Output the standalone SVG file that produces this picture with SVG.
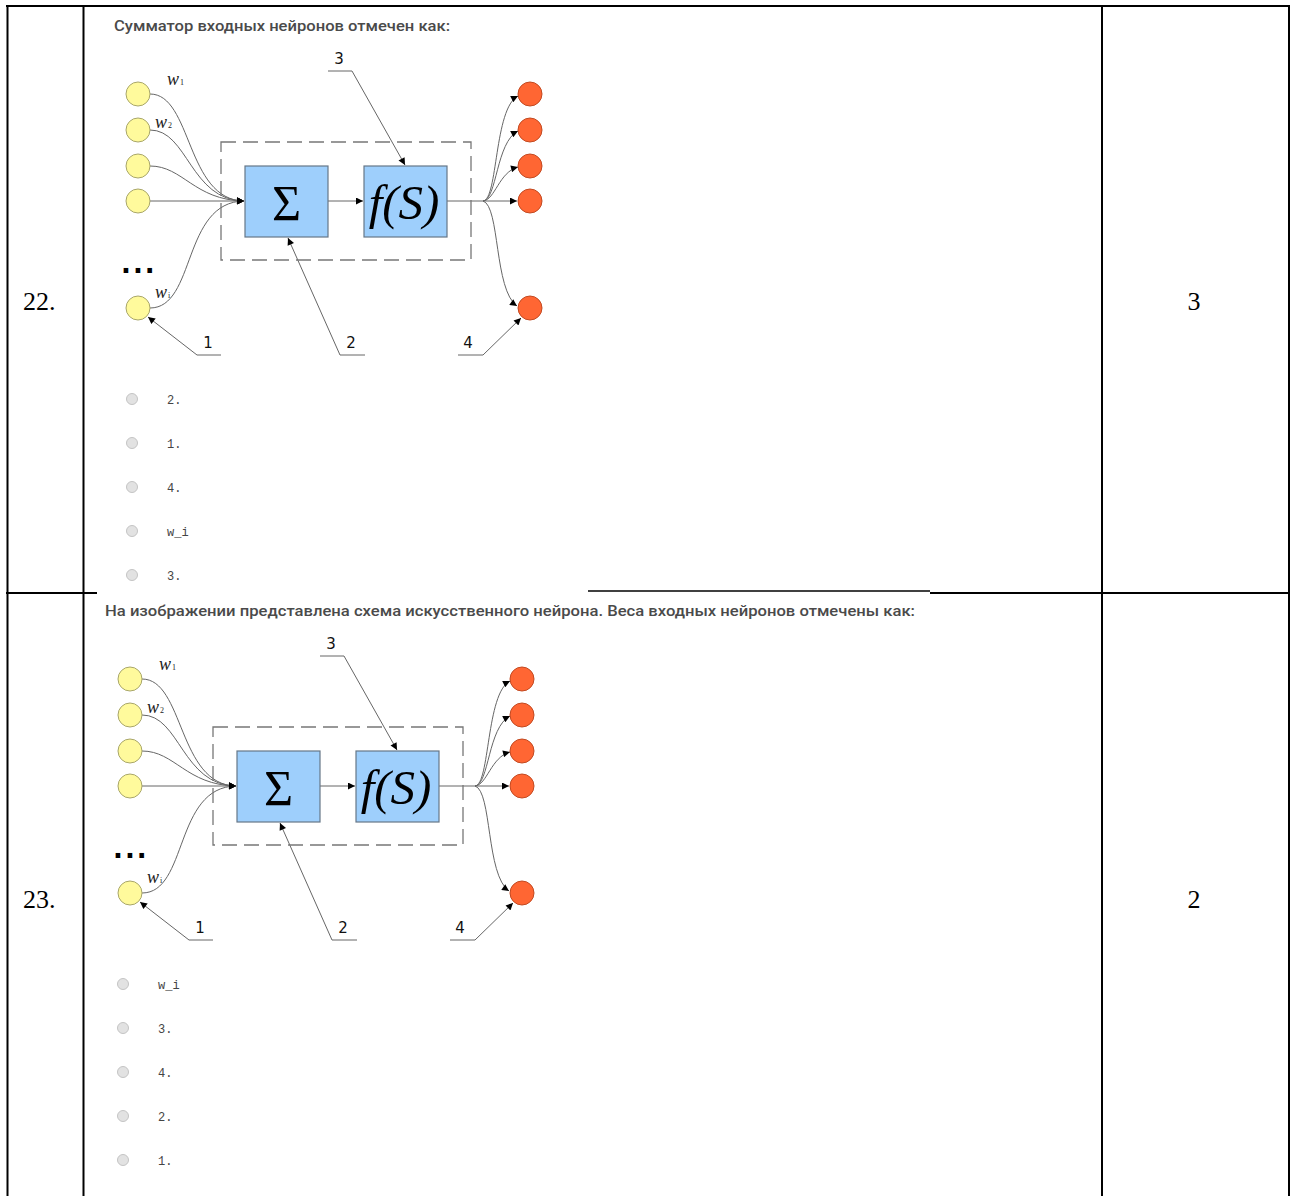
<svg xmlns="http://www.w3.org/2000/svg" width="1292" height="1196" viewBox="0 0 1292 1196">
<defs>
<marker id="arr" viewBox="0 0 10 10" refX="10" refY="5" markerWidth="9" markerHeight="7" markerUnits="userSpaceOnUse" orient="auto"><path d="M0,0 L10,5 L0,10 z" fill="#000"/></marker>
<style>
.tbl{stroke:#000;stroke-width:2;fill:none}
.inp{fill:#FFFA9C;stroke:#A8A66A;stroke-width:1}
.out{fill:#FF6633;stroke:#C24A22;stroke-width:1}
.box{fill:#9ECFFC;stroke:#667788;stroke-width:1.2}
.dash{fill:none;stroke:#777;stroke-width:1.3;stroke-dasharray:15 7}
.con{fill:none;stroke:#666;stroke-width:1;marker-end:url(#arr)}
.ptr{fill:none;stroke:#666;stroke-width:1}
.sym{font-family:"Liberation Serif","DejaVu Serif",serif;fill:#000}
.w{font-family:"Liberation Serif","DejaVu Serif",serif;font-style:italic;font-size:18px;fill:#222}
.ws{font-family:"Liberation Serif","DejaVu Serif",serif;font-size:8px;font-style:normal;fill:#222}
.num{font-family:"DejaVu Sans","Liberation Sans",sans-serif;font-size:15px;fill:#111;text-anchor:middle}
.title{font-family:Roboto,"Liberation Sans",sans-serif;font-weight:500;font-size:14px;fill:#4a4a4a}
.opt{font-family:"Liberation Mono","DejaVu Sans Mono",monospace;font-size:12px;fill:#444}
.radio{fill:#E2E2E2;stroke:#C4C4C4;stroke-width:1}
.cell{font-family:"Liberation Serif","Times New Roman",serif;font-size:26px;fill:#000}
.dots{font-family:"DejaVu Sans",sans-serif;font-weight:bold;font-size:26px;letter-spacing:2px;fill:#000}
</style>
</defs>
<rect width="1292" height="1196" fill="#fff"/>

<g id="table">
<line class="tbl" x1="6" y1="6" x2="1290" y2="6"/>
<line class="tbl" x1="7.5" y1="5" x2="7.5" y2="1196"/>
<line class="tbl" x1="83.5" y1="5" x2="83.5" y2="1196"/>
<line class="tbl" x1="1102" y1="5" x2="1102" y2="1196"/>
<line class="tbl" x1="1289" y1="5" x2="1289" y2="1196"/>
<line class="tbl" x1="6" y1="593" x2="97" y2="593"/>
<line x1="588" y1="591" x2="930" y2="591" stroke="#000" stroke-width="1.5"/>
<line class="tbl" x1="930" y1="593" x2="1290" y2="593"/>
<text class="cell" x="23" y="310">22.</text>
<text class="cell" x="1194" y="310" text-anchor="middle">3</text>
<text class="cell" x="23" y="908">23.</text>
<text class="cell" x="1194" y="908" text-anchor="middle">2</text>
</g>

<!-- Question 22 -->
<text class="title" x="114" y="31" textLength="336" lengthAdjust="spacingAndGlyphs">Сумматор входных нейронов отмечен как:</text>
<g id="q22-diagram">
<g id="q22-connectors">
<path class="con" d="M150,94 C192,94 186,200 244,201"/>
<path class="con" d="M150,130 C188,130 190,200 244,201"/>
<path class="con" d="M150,166 C183,166 194,200 244,201"/>
<path class="con" d="M150,201 L244,201"/>
<path class="con" d="M150,308 C196,308 182,202 244,201"/>
<path class="con" d="M328,201 L363,201"/>
<path class="ptr" d="M447,201 L483,201"/>
<path class="con" d="M483,201 C498,200 494,108 518,96"/>
<path class="con" d="M483,201 C497,200 496,142 518,131"/>
<path class="con" d="M483,201 C495,200 499,172 518,167"/>
<path class="con" d="M483,201 L517,201"/>
<path class="con" d="M483,201 C500,206 494,290 517,306"/>
<path class="ptr" d="M328,71 L352,71"/>
<path class="con" d="M352,71 L405,165"/>
<path class="ptr" d="M365,355 L340,355"/>
<path class="con" d="M340,355 L288,238"/>
<path class="ptr" d="M221,355 L197,355"/>
<path class="con" d="M197,355 L148,317"/>
<path class="ptr" d="M458,355 L483,355"/>
<path class="con" d="M483,355 L521,318"/>
</g>
<rect class="dash" x="221" y="142" width="250" height="118"/>
<g id="q22-in1"><circle class="inp" cx="138" cy="94" r="12"/></g>
<g id="q22-in2"><circle class="inp" cx="138" cy="130" r="12"/></g>
<g id="q22-in3"><circle class="inp" cx="138" cy="166" r="12"/></g>
<g id="q22-in4"><circle class="inp" cx="138" cy="201" r="12"/></g>
<g id="q22-ini"><circle class="inp" cx="138" cy="308" r="12"/></g>
<g id="q22-out1"><circle class="out" cx="530" cy="94" r="12"/></g>
<g id="q22-out2"><circle class="out" cx="530" cy="130" r="12"/></g>
<g id="q22-out3"><circle class="out" cx="530" cy="166" r="12"/></g>
<g id="q22-out4"><circle class="out" cx="530" cy="201" r="12"/></g>
<g id="q22-out5"><circle class="out" cx="530" cy="308" r="12"/></g>
<g id="q22-sum"><rect class="box" x="245" y="166" width="83" height="71"/><text class="sym" x="286.5" y="220" font-size="50" text-anchor="middle">Σ</text></g>
<g id="q22-act"><rect class="box" x="364" y="166" width="83" height="71"/><text class="sym" x="404" y="219" font-size="49" font-style="italic" text-anchor="middle">f(S)</text></g>
<text class="w" x="167" y="85">w<tspan class="ws" dx="1">1</tspan></text>
<text class="w" x="155" y="128">w<tspan class="ws" dx="1">2</tspan></text>
<text class="w" x="155" y="298">w<tspan class="ws" dx="1">i</tspan></text>
<text class="dots" x="121" y="273">...</text>
<text class="num" x="339" y="64">3</text>
<text class="num" x="351" y="348">2</text>
<text class="num" x="208" y="348">1</text>
<text class="num" x="468" y="348">4</text>
</g>
<g id="q22-options">
<circle class="radio" cx="132" cy="399" r="5.5"/><text class="opt" x="167" y="404">2.</text>
<circle class="radio" cx="132" cy="443" r="5.5"/><text class="opt" x="167" y="448">1.</text>
<circle class="radio" cx="132" cy="487" r="5.5"/><text class="opt" x="167" y="492">4.</text>
<circle class="radio" cx="132" cy="531" r="5.5"/><text class="opt" x="167" y="536">w_i</text>
<circle class="radio" cx="132" cy="575" r="5.5"/><text class="opt" x="167" y="580">3.</text>
</g>

<!-- Question 23 -->
<text class="title" x="105" y="616" textLength="810" lengthAdjust="spacingAndGlyphs">На изображении представлена схема искусственного нейрона. Веса входных нейронов отмечены как:</text>
<g id="q23-diagram" transform="translate(-8,585)">
<g id="q23-connectors">
<path class="con" d="M150,94 C192,94 186,200 244,201"/>
<path class="con" d="M150,130 C188,130 190,200 244,201"/>
<path class="con" d="M150,166 C183,166 194,200 244,201"/>
<path class="con" d="M150,201 L244,201"/>
<path class="con" d="M150,308 C196,308 182,202 244,201"/>
<path class="con" d="M328,201 L363,201"/>
<path class="ptr" d="M447,201 L483,201"/>
<path class="con" d="M483,201 C498,200 494,108 518,96"/>
<path class="con" d="M483,201 C497,200 496,142 518,131"/>
<path class="con" d="M483,201 C495,200 499,172 518,167"/>
<path class="con" d="M483,201 L517,201"/>
<path class="con" d="M483,201 C500,206 494,290 517,306"/>
<path class="ptr" d="M328,71 L352,71"/>
<path class="con" d="M352,71 L405,165"/>
<path class="ptr" d="M365,355 L340,355"/>
<path class="con" d="M340,355 L288,238"/>
<path class="ptr" d="M221,355 L197,355"/>
<path class="con" d="M197,355 L148,317"/>
<path class="ptr" d="M458,355 L483,355"/>
<path class="con" d="M483,355 L521,318"/>
</g>
<rect class="dash" x="221" y="142" width="250" height="118"/>
<g id="q23-in1"><circle class="inp" cx="138" cy="94" r="12"/></g>
<g id="q23-in2"><circle class="inp" cx="138" cy="130" r="12"/></g>
<g id="q23-in3"><circle class="inp" cx="138" cy="166" r="12"/></g>
<g id="q23-in4"><circle class="inp" cx="138" cy="201" r="12"/></g>
<g id="q23-ini"><circle class="inp" cx="138" cy="308" r="12"/></g>
<g id="q23-out1"><circle class="out" cx="530" cy="94" r="12"/></g>
<g id="q23-out2"><circle class="out" cx="530" cy="130" r="12"/></g>
<g id="q23-out3"><circle class="out" cx="530" cy="166" r="12"/></g>
<g id="q23-out4"><circle class="out" cx="530" cy="201" r="12"/></g>
<g id="q23-out5"><circle class="out" cx="530" cy="308" r="12"/></g>
<g id="q23-sum"><rect class="box" x="245" y="166" width="83" height="71"/><text class="sym" x="286.5" y="220" font-size="50" text-anchor="middle">Σ</text></g>
<g id="q23-act"><rect class="box" x="364" y="166" width="83" height="71"/><text class="sym" x="404" y="219" font-size="49" font-style="italic" text-anchor="middle">f(S)</text></g>
<text class="w" x="167" y="85">w<tspan class="ws" dx="1">1</tspan></text>
<text class="w" x="155" y="128">w<tspan class="ws" dx="1">2</tspan></text>
<text class="w" x="155" y="298">w<tspan class="ws" dx="1">i</tspan></text>
<text class="dots" x="121" y="273">...</text>
<text class="num" x="339" y="64">3</text>
<text class="num" x="351" y="348">2</text>
<text class="num" x="208" y="348">1</text>
<text class="num" x="468" y="348">4</text>
</g>
<g id="q23-options">
<circle class="radio" cx="123" cy="984" r="5.5"/><text class="opt" x="158" y="989">w_i</text>
<circle class="radio" cx="123" cy="1028" r="5.5"/><text class="opt" x="158" y="1033">3.</text>
<circle class="radio" cx="123" cy="1072" r="5.5"/><text class="opt" x="158" y="1077">4.</text>
<circle class="radio" cx="123" cy="1116" r="5.5"/><text class="opt" x="158" y="1121">2.</text>
<circle class="radio" cx="123" cy="1160" r="5.5"/><text class="opt" x="158" y="1165">1.</text>
</g>
</svg>
